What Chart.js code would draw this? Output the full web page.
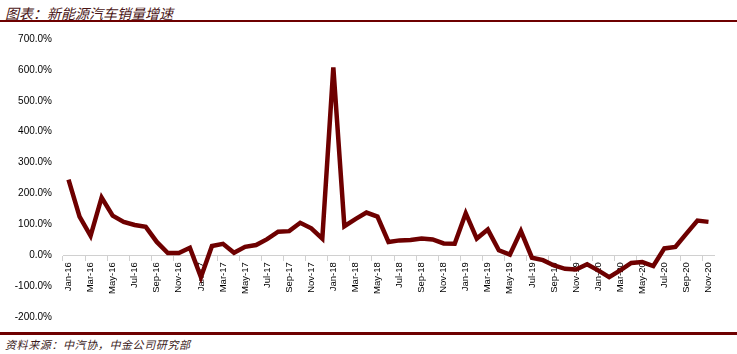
<!DOCTYPE html>
<html>
<head>
<meta charset="utf-8">
<script src="https://cdn.jsdelivr.net/npm/chart.js@4/dist/chart.umd.min.js"></script>
<style>
  html, body { margin: 0; padding: 0; background: #fff; }
  #wrap { position: relative; width: 737px; height: 354px; overflow: hidden; }
  #title {
    position: absolute; left: 5px; top: 3px;
    font: italic 14px "Noto Sans CJK SC", sans-serif; letter-spacing: 0px;
    color: #4a1515;
  }
  #topLine { position: absolute; left: 0; top: 20px; width: 737px; height: 2px; background: #6e0000; }
  #chartBox { position: absolute; left: 0; top: 30px; width: 737px; height: 296px; }
  #bottomLine { position: absolute; left: 0; top: 332px; width: 737px; height: 3px; background: #6e0000; }
  #source {
    position: absolute; left: 5px; top: 336px;
    font: italic 11px "Noto Sans CJK SC", sans-serif; letter-spacing: 0.6px;
    color: #3a1a1a;
  }
</style>
</head>
<body>
<div id="wrap">
  <div id="title">图表：新能源汽车销量增速</div>
  <div id="topLine"></div>
  <div id="chartBox"><canvas id="chart"></canvas></div>
  <div id="bottomLine"></div>
  <div id="source">资料来源：中汽协，中金公司研究部</div>
</div>
<script>
// 月份ラベル
const months = [
  'Jan-16','Feb-16','Mar-16','Apr-16','May-16','Jun-16','Jul-16','Aug-16','Sep-16','Oct-16','Nov-16','Dec-16',
  'Jan-17','Feb-17','Mar-17','Apr-17','May-17','Jun-17','Jul-17','Aug-17','Sep-17','Oct-17','Nov-17','Dec-17',
  'Jan-18','Feb-18','Mar-18','Apr-18','May-18','Jun-18','Jul-18','Aug-18','Sep-18','Oct-18','Nov-18','Dec-18',
  'Jan-19','Feb-19','Mar-19','Apr-19','May-19','Jun-19','Jul-19','Aug-19','Sep-19','Oct-19','Nov-19','Dec-19',
  'Jan-20','Feb-20','Mar-20','Apr-20','May-20','Jun-20','Jul-20','Aug-20','Sep-20','Oct-20','Nov-20'
];

// 新能源汽车销量增速 (%)
const growth = [
  245, 125, 63, 187, 128, 108, 98, 92, 43, 7, 7, 24,
  -71, 30, 37, 8, 27, 33, 52, 76, 78, 105, 87, 54,
  608, 94, 117, 138, 125, 43, 48, 49, 54, 51, 38, 37,
  136, 54, 83, 16, 2, 78, -8, -16, -33, -44, -46, -29,
  -49, -71, -49, -25, -22, -35, 22, 27, 70, 112, 108
];

const yMin = -200;
const yMax = 700;
const yStep = 100;

const lineColor = '#6e0000';

new Chart(document.getElementById('chart'), {
  type: 'line',
  data: {
    labels: months,
    datasets: [{
      label: '增速',
      data: growth,
      borderColor: lineColor,
      borderWidth: 4.5,
      pointRadius: 0,
      tension: 0,
      fill: false
    }]
  },
  options: {
    responsive: true,
    maintainAspectRatio: false,
    animation: false,
    layout: { padding: { left: 0, right: 23, top: 3, bottom: 0 } },
    plugins: {
      legend: { display: false },
      tooltip: { enabled: false }
    },
    scales: {
      x: {
        position: { y: 0 },
        offset: true,
        grid: {
          offset: true,
          drawOnChartArea: false,
          drawTicks: true,
          tickLength: 5,
          color: (c) => (c.index % 2 === 0 ? '#d0d0d0' : 'rgba(0,0,0,0)')
        },
        border: { display: true, color: '#d0d0d0', width: 1 },
        ticks: {
          autoSkip: false,
          maxRotation: 90,
          minRotation: 90,
          color: '#000',
          font: { family: 'Liberation Sans', size: 9.5 },
          padding: 2,
          callback: function (value, index) {
            return index % 2 === 0 ? this.getLabelForValue(value) : '';
          }
        }
      },
      y: {
        min: yMin,
        max: yMax,
        grid: { display: false },
        border: { display: false },
        afterFit: (scale) => { scale.width = 63; },
        ticks: {
          stepSize: yStep,
          color: '#000',
          font: { family: 'Liberation Sans', size: 10 },
          padding: 3,
          callback: (v) => v.toFixed(1) + '%'
        }
      }
    }
  }
});
</script>
</body>
</html>
